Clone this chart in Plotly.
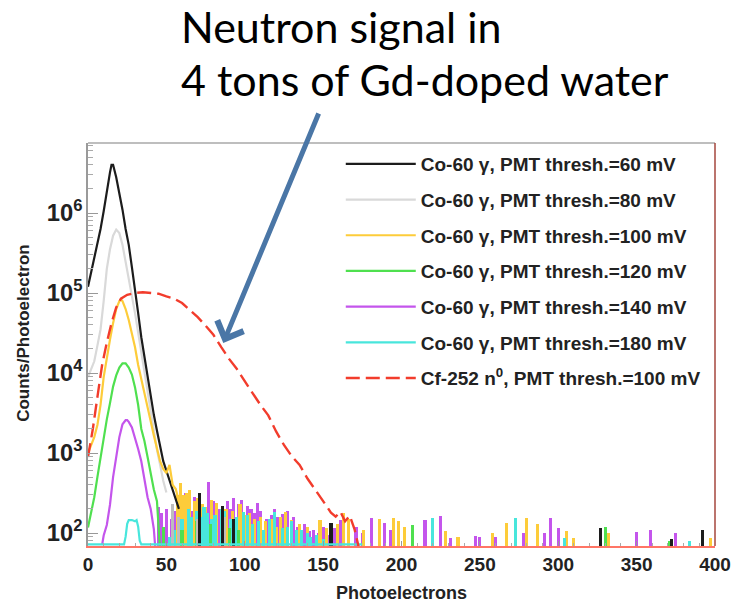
import plotly.graph_objects as go

# ---------------- data ----------------
black_x = [0, 2, 4, 6, 8, 10, 12, 14, 15, 16, 18, 20, 22, 24, 26, 28, 30, 32, 34, 36, 38, 40, 42, 44, 46, 48, 50, 52, 54, 56, 58]
black_y = [1.2e5, 1.8e5, 2.6e5, 4.0e5, 6.3e5, 1.05e6, 1.9e6, 3.2e6, 4.0e6, 4.0e6, 2.8e6, 1.8e6, 1.1e6, 6.3e5, 4.0e5, 2.1e5,
           1.0e5, 5.6e4, 2.8e4, 1.6e4, 8.9e3, 5.0e3, 3.0e3, 1.9e3, 1.2e3, 790, 600, 450, 350, 250, 200]

gray_x = [0, 2, 4, 6, 8, 10, 12, 14, 16, 18, 20, 22, 24, 26, 28, 30, 32, 34, 36, 38, 40, 42, 44, 46, 48, 50]
gray_y = [8.9e3, 1.1e4, 1.4e4, 2.2e4, 3.5e4, 7.9e4, 2.0e5, 3.5e5, 5.2e5, 6.2e5, 5.6e5, 4.0e5, 2.5e5, 1.6e5, 9.3e4,
          5.6e4, 3.2e4, 1.8e4, 1.0e4, 5.6e3, 3.2e3, 1.9e3, 1.1e3, 710, 450, 320]

yellow_x = [0, 2, 4, 6, 8, 10, 12, 14, 16, 18, 20, 21, 22, 24, 26, 28, 30, 32, 34, 36, 38, 40, 42, 44, 46, 48, 50, 52, 54, 56, 58]
yellow_y = [1000, 1260, 1580, 2240, 4000, 8900, 1.6e4, 2.6e4, 4.2e4, 6.3e4, 7.9e4, 8.3e4, 7.9e4, 6.3e4, 4.6e4, 3.2e4,
            2.1e4, 1.26e4, 8.5e3, 6.0e3, 4.0e3, 2.5e3, 1.66e3, 1.12e3, 790, 630, 560, 710, 400, 355, 250]

green_x = [0, 2, 4, 6, 8, 10, 12, 14, 16, 18, 20, 22, 23, 24, 26, 28, 30, 32, 34, 36, 38, 40, 42, 44, 46]
green_y = [117, 178, 280, 500, 890, 1510, 2630, 4170, 6760, 9330, 1.17e4, 1.32e4, 1.33e4, 1.32e4, 1.17e4, 9550,
           6610, 3980, 2000, 1410, 890, 560, 350, 250, 60]

magenta_x = [9, 10, 12, 14, 16, 18, 20, 22, 24, 25, 26, 28, 30, 32, 34, 36, 38, 40, 42, 43]
magenta_y = [71, 93, 126, 224, 500, 890, 1580, 2290, 2570, 2570, 2450, 2090, 1580, 1120, 790, 450, 280, 200, 112, 63]

cyan_x = [0, 23, 24, 25, 26, 28, 30, 31, 32, 33, 34, 175]
cyan_y = [72, 72, 90, 130, 145, 145, 140, 145, 120, 80, 72, 72]

red_x = [0, 3, 6, 9, 12, 15, 18, 21, 25, 30, 35, 40, 45, 50, 55, 60, 65, 70, 75, 80, 85, 90, 95, 100, 105, 110,
         115, 120, 125, 130, 135, 140, 145, 150, 155, 158, 161, 164, 167, 170, 173]
red_y = [890, 1950, 5000, 1.26e4, 2.4e4, 4.2e4, 6.6e4, 8.5e4, 9.5e4, 1.0e5, 1.02e5, 1.0e5, 9.8e4, 9.1e4, 8.5e4,
         7.5e4, 6.2e4, 5.0e4, 3.9e4, 3.0e4, 2.1e4, 1.5e4, 1.12e4, 7.8e3, 5.6e3, 4.0e3, 2.95e3, 1.86e3, 1.26e3,
         910, 710, 480, 340, 250, 180, 160, 185, 140, 165, 112, 63]

# noise bins in the tail (photoelectrons, counts)
magenta_nx = [45, 47, 50, 53, 55, 57, 59, 61, 62, 64, 66, 68, 71, 74, 77, 80, 82, 84, 86, 89, 91, 93, 96, 98, 99,
              102, 104, 106, 108, 110, 114, 117, 119, 121, 124, 127, 131, 134, 138, 141, 144, 147, 150, 153, 157,
              161, 171, 175, 181, 189, 193, 215, 225, 231, 247, 250, 260, 278, 291, 295, 300, 350, 359, 375]
magenta_ny = [214, 180, 200, 150, 190, 230, 260, 275, 316, 210, 190, 280, 240, 170, 436, 250, 230, 200, 160, 250,
              200, 275, 230, 260, 170, 220, 200, 180, 240, 190, 150, 170, 200, 158, 175, 190, 158, 120, 130, 105,
              110, 100, 120, 95, 115, 145, 120, 100, 155, 133, 110, 145, 165, 87, 93, 90, 90, 100, 100, 155, 117,
              102, 110, 100]
yellow_nx = [57, 59, 61, 63, 65, 68, 70, 73, 75, 79, 82, 86, 88, 92, 97, 100, 103, 106, 110, 113, 117, 120, 123,
             126, 130, 135, 140, 148, 152, 155, 159, 163, 166, 176, 186, 195, 198, 202, 228, 236, 258, 267, 280,
             287, 305, 310, 332, 397]
yellow_ny = [300, 416, 300, 320, 346, 250, 270, 230, 210, 260, 240, 200, 200, 190, 230, 170, 180, 150, 160, 140,
             150, 120, 160, 182, 145, 130, 120, 145, 115, 110, 130, 178, 150, 110, 150, 155, 140, 120, 107, 90,
             100, 135, 155, 130, 105, 87, 100, 87]
cyan_nx = [52, 55, 58, 60, 64, 66, 69, 72, 74, 76, 79, 81, 85, 87, 91, 95, 99, 102, 105, 109, 112, 116, 119, 124,
           127, 130, 133, 136, 140, 142, 146, 150, 220, 273, 304, 384]
cyan_ny = [90, 110, 130, 150, 200, 160, 190, 160, 210, 180, 150, 170, 200, 190, 150, 160, 182, 170, 130, 140, 110,
           150, 182, 115, 120, 140, 110, 110, 100, 90, 95, 85, 155, 155, 87, 80]
green_nx = [48, 60, 69, 78, 90, 96, 207, 330, 371]
green_ny = [120, 110, 140, 130, 115, 110, 126, 120, 80]
black_nx = [71, 86, 93, 155, 327, 372, 392]
black_ny = [316, 220, 150, 135, 117, 85, 110]
gray_nx = [54, 58, 70, 87]
gray_ny = [230, 160, 150, 160]

labels = [
    "Co-60 γ, PMT thresh.=60 mV",
    "Co-60 γ, PMT thresh.=80 mV",
    "Co-60 γ, PMT thresh.=100 mV",
    "Co-60 γ, PMT thresh.=120 mV",
    "Co-60 γ, PMT thresh.=140 mV",
    "Co-60 γ, PMT thresh.=180 mV",
    "Cf-252 n<sup>0</sup>, PMT thresh.=100 mV",
]
x_ticks = [0, 50, 100, 150, 200, 250, 300, 350, 400]

# ---------------- styling ----------------
C_BLACK = "#1c1c1c"
C_GRAY = "#d9d9d9"
C_YELLOW = "#fdcc3a"
C_GREEN = "#4fe04f"
C_MAGENTA = "#c455ec"
C_CYAN = "#48e6dc"
C_RED = "#f23c2c"
FONT = "Liberation Sans, Arial, sans-serif"

fig = go.Figure()

# noise bars (behind the lines)
for nx, ny, col in [(magenta_nx, magenta_ny, C_MAGENTA), (yellow_nx, yellow_ny, C_YELLOW),
                    (cyan_nx, cyan_ny, C_CYAN), (green_nx, green_ny, C_GREEN),
                    (gray_nx, gray_ny, "#bdbdbd"), (black_nx, black_ny, C_BLACK)]:
    fig.add_trace(go.Bar(x=nx, y=ny, width=2.0, marker=dict(color=col, line=dict(width=0)),
                         showlegend=False, hoverinfo="skip"))

series = [
    (gray_x, gray_y, C_GRAY, labels[1], 2, None),
    (black_x, black_y, C_BLACK, labels[0], 1, None),
    (yellow_x, yellow_y, C_YELLOW, labels[2], 3, None),
    (green_x, green_y, C_GREEN, labels[3], 4, None),
    (magenta_x, magenta_y, C_MAGENTA, labels[4], 5, None),
    (cyan_x, cyan_y, C_CYAN, labels[5], 6, None),
    (red_x, red_y, C_RED, labels[6], 7, "14px,6px"),
]
for sx, sy, col, name, rank, dash in series:
    fig.add_trace(go.Scatter(x=sx, y=sy, mode="lines", name=name, legendrank=rank,
                             legendgroup=name,
                             line=dict(color=col, width=2.2 if dash is None else 2.4,
                                       dash=dash if dash else "solid")))

W, H = 743, 606
L, R, T, B = 88, 20, 143, 60
pw, ph = W - L - R, H - T - B


def px(xp):
    return (xp - L) / pw


def py(yp):
    return (H - B - yp) / ph


fig.update_layout(
    width=W, height=H,
    margin=dict(l=L, r=R, t=T, b=B),
    paper_bgcolor="white", plot_bgcolor="white",
    barmode="overlay", bargap=0,
    font=dict(family=FONT, color="#222"),
    showlegend=True,
    legend=dict(x=px(344), y=py(145), xanchor="left", yanchor="top",
                bgcolor="rgba(255,255,255,0)", borderwidth=0,
                traceorder="grouped", tracegroupgap=8,
                font=dict(family=FONT, size=19, color="#222", weight="bold"),
                itemwidth=70),
    xaxis=dict(range=[0, 400], tickvals=x_ticks, ticks="inside", ticklen=5, tickcolor="#999",
               showline=True, linecolor="#ff7565", linewidth=1.5, showgrid=False, zeroline=False,
               minor=dict(ticks="inside", ticklen=3, dtick=10, tickcolor="#aaa"),
               tickfont=dict(family=FONT, size=19, color="#222", weight="bold")),
    yaxis=dict(type="log", range=[1.8375, 6.875], dtick=1, exponentformat="power",
               ticks="inside", ticklen=10, tickcolor="#999",
               minor=dict(ticks="inside", ticklen=5, dtick="D1", tickcolor="#aaa"),
               showline=True, linecolor="#9a9a9a", linewidth=1.5, showgrid=False, zeroline=False,
               tickfont=dict(family=FONT, size=19, color="#222", weight="bold")),
    shapes=[
        dict(type="line", xref="paper", yref="paper", x0=0, x1=1, y0=1, y1=1,
             line=dict(color="#a8a8a8", width=1.5)),
        dict(type="line", xref="paper", yref="paper", x0=1, x1=1, y0=0, y1=1,
             line=dict(color="#a5463c", width=1.5)),
    ],
    annotations=[
        # axis titles
        dict(text="Photoelectrons", xref="paper", yref="paper", x=px(405), y=py(593),
             xanchor="center", yanchor="middle", showarrow=False, borderpad=0,
             font=dict(family=FONT, size=18, color="#222", weight="bold")),
        dict(text="Counts/Photoelectron", xref="paper", yref="paper", x=px(22), y=py(333),
             xanchor="center", yanchor="middle", showarrow=False, textangle=-90,
             font=dict(family=FONT, size=17, color="#222", weight="bold")),
        # slide annotation
        dict(text="Neutron signal in", xref="paper", yref="paper", x=px(180), y=py(26),
             xanchor="left", yanchor="middle", showarrow=False,
             font=dict(family="Lato, Noto Sans, sans-serif", size=43, color="#000")),
        dict(text="4 tons of Gd-doped water", xref="paper", yref="paper", x=px(180), y=py(80),
             xanchor="left", yanchor="middle", showarrow=False,
             font=dict(family="Lato, Noto Sans, sans-serif", size=43, color="#000")),
        dict(text="", xref="paper", yref="paper", x=px(225), y=py(343),
             ax=96, ay=-231, showarrow=True, arrowhead=4, arrowwidth=5, arrowsize=1.1,
             arrowcolor="#4a76a6", standoff=0),
    ],
)

fig.write_html("out.html")
